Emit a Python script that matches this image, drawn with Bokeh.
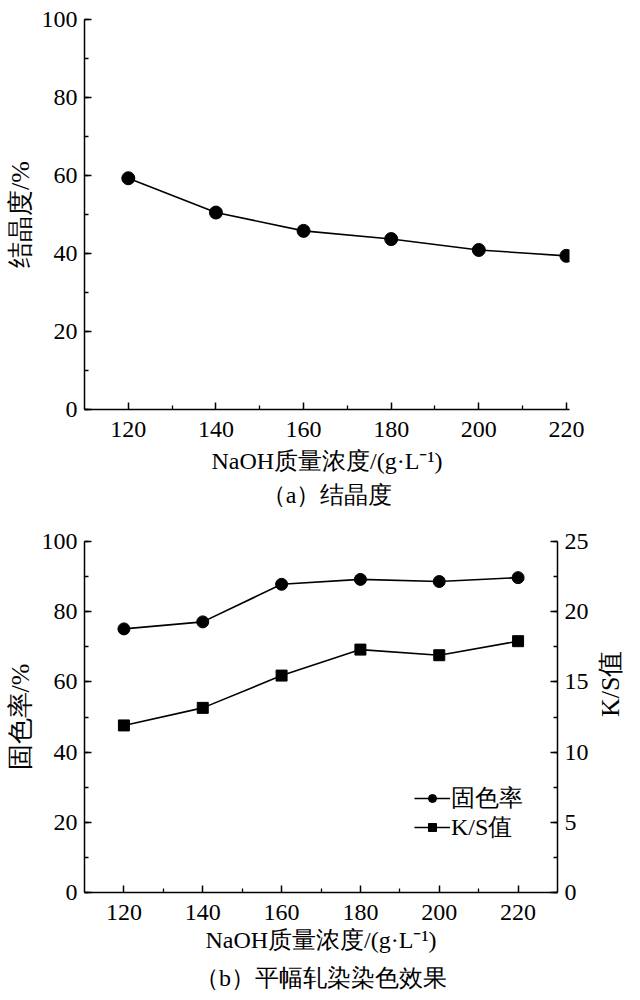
import math
from bokeh.plotting import figure
from bokeh.models import (FixedTicker, SingleIntervalTicker, LinearAxis, Range1d,
                          Title, Legend, LegendItem)
from bokeh.layouts import column
from bokeh.embed import file_html
from bokeh.resources import INLINE

# ---------------- data ----------------
naoh = [120, 140, 160, 180, 200, 220]
crystallinity = [59.3, 50.5, 45.8, 43.7, 40.9, 39.4]
fixation = [75.1, 77.1, 87.8, 89.2, 88.6, 89.7]
ks_value = [11.9, 13.15, 15.45, 17.3, 16.9, 17.9]

x_ticks = [120, 140, 160, 180, 200, 220]
x_minor = [130, 150, 170, 190, 210]

x_label = "NaOH质量浓度/(g·L⁻¹)"
cap_a = "（a）结晶度"
cap_b = "（b）平幅轧染染色效果"
ylab_a = "结晶度/%"
ylab_b = "固色率/%"
ylab_b2 = "K/S值"
leg_fix = "固色率"
leg_ks = "K/S值"

FONT = "Liberation Serif"
TICK_SIZE = "24px"
LABEL_SIZE = "24px"


def style_axis(ax):
    ax.axis_line_width = 1.5
    ax.axis_line_color = "black"
    ax.major_tick_in = 7
    ax.major_tick_out = 0
    ax.minor_tick_in = 4
    ax.minor_tick_out = 0
    ax.major_tick_line_width = 1.5
    ax.minor_tick_line_width = 1.3
    ax.major_tick_line_color = "black"
    ax.minor_tick_line_color = "black"
    ax.major_label_text_font = FONT
    ax.major_label_text_font_size = TICK_SIZE
    ax.major_label_text_color = "black"
    ax.major_label_standoff = 7
    ax.axis_label_text_font = FONT
    ax.axis_label_text_font_size = LABEL_SIZE
    ax.axis_label_text_font_style = "normal"
    ax.axis_label_text_color = "black"


def make_fig(fw, fh, bl, br, bt, bb, xend):
    p = figure(frame_width=fw, frame_height=fh, output_backend="svg", toolbar_location=None,
               x_range=Range1d(110, xend), y_range=Range1d(0, 100),
               min_border_left=bl, min_border_right=br, min_border_top=bt,
               min_border_bottom=bb)
    p.outline_line_color = None
    p.xgrid.visible = False
    p.ygrid.visible = False
    p.background_fill_color = "white"
    p.border_fill_color = "white"
    p.xaxis.ticker = FixedTicker(ticks=x_ticks, minor_ticks=x_minor)
    p.yaxis.ticker = SingleIntervalTicker(interval=20, num_minor_ticks=2)
    p.xaxis.axis_label = x_label
    for ax in p.xaxis + p.yaxis:
        style_axis(ax)
    p.xaxis.major_label_standoff = 12
    p.xaxis.axis_label_standoff = 8
    p.yaxis.axis_label_text_font_size = "26px"
    p.yaxis.axis_label_standoff = 4
    return p


# ---------------- (a) ----------------
p1 = make_fig(485, 390, 84, 60, 19, 105, 220.7)
p1.yaxis.axis_label = ylab_a
p1.line(naoh, crystallinity, line_color="black", line_width=1.6)
p1.scatter(naoh, crystallinity, marker="circle", size=13, color="black")
t1 = Title(text=cap_a, align="center", text_font=FONT, text_font_size=LABEL_SIZE,
           text_font_style="normal", text_color="black", standoff=6)
p1.add_layout(t1, "below")

# ---------------- (b) ----------------
p2 = make_fig(473, 351, 84, 72, 27, 99, 230)
p2.yaxis.axis_label = ylab_b
p2.xaxis.axis_label_standoff = 4
p2.extra_y_ranges = {"ks": Range1d(0, 25)}
rax = LinearAxis(y_range_name="ks", axis_label=ylab_b2,
                 ticker=SingleIntervalTicker(interval=5, num_minor_ticks=2))
style_axis(rax)
rax.axis_label_text_font_size = "26px"
rax.axis_label_standoff = 19
if "axis_label_orientation" in LinearAxis.properties():
    # reads bottom-to-top, like the left-hand title
    rax.axis_label_orientation = math.pi / 2
p2.add_layout(rax, "right")

l1 = p2.line(naoh, fixation, line_color="black", line_width=1.6)
s1 = p2.scatter(naoh, fixation, marker="circle", size=12, color="black")
l2 = p2.line(naoh, ks_value, line_color="black", line_width=1.6, y_range_name="ks")
s2 = p2.scatter(naoh, ks_value, marker="square", size=11, color="black", y_range_name="ks")

leg_kw = dict(border_line_color=None, background_fill_alpha=0,
              label_text_font=FONT, label_text_font_size="24px", label_text_color="black",
              glyph_width=36, glyph_height=20, label_standoff=1, spacing=0,
              padding=0, margin=0, label_height=20)
p2.add_layout(Legend(items=[LegendItem(label=leg_fix, renderers=[l1, s1])],
                     location=(330, 78), **leg_kw), "center")
p2.add_layout(Legend(items=[LegendItem(label=leg_ks, renderers=[l2, s2])],
                     location=(330, 49), **leg_kw), "center")

t2 = Title(text=cap_b, align="center", text_font=FONT, text_font_size=LABEL_SIZE,
           text_font_style="normal", text_color="black", standoff=14)
p2.add_layout(t2, "below")

layout = column(p1, p2, spacing=0)
open("out.html", "w").write(file_html(layout, INLINE))
